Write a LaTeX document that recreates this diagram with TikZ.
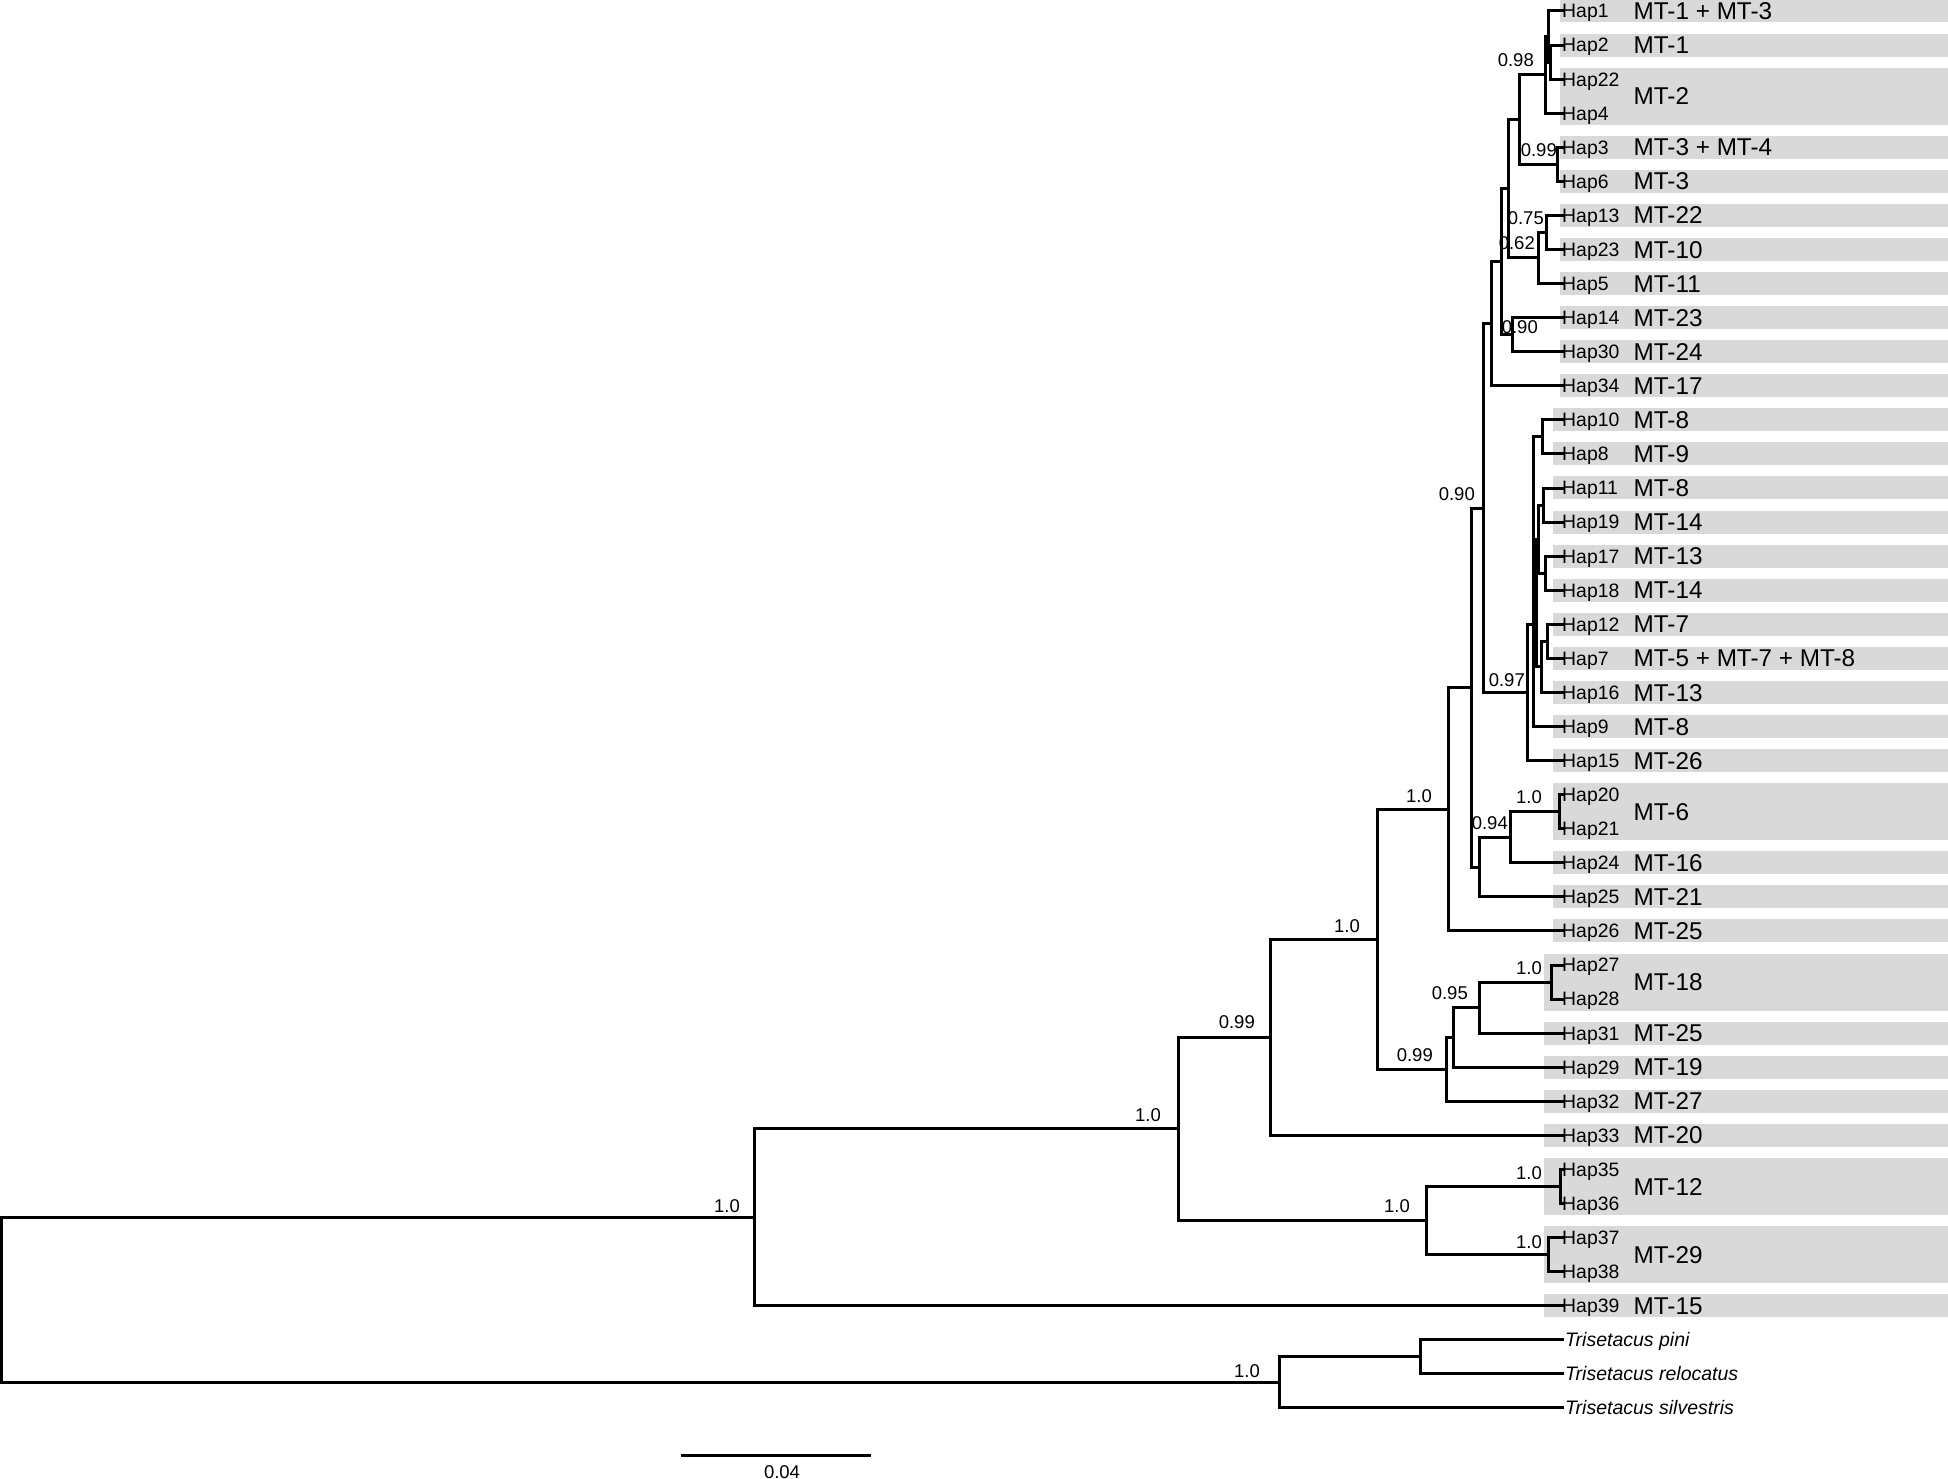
\documentclass[tikz,border=0pt]{standalone}
\usepackage{fontspec}
\setmainfont{Liberation Sans}
\definecolor{bandgray}{RGB}{217,217,217}
\begin{document}
\begin{tikzpicture}[x=1pt,y=-1pt,
  br/.style={line width=3pt},
  band/.style={fill=bandgray,draw=none},
  hap/.style={anchor=base west,inner sep=0pt,font=\fontsize{19.4}{19.4}\selectfont},
  mt/.style={anchor=base west,inner sep=0pt,font=\fontsize{24.3}{24.3}\selectfont},
  sup/.style={anchor=base east,inner sep=0pt,font=\fontsize{18.5}{18.5}\selectfont},
  outg/.style={anchor=base west,inner sep=0pt,font=\fontsize{19.5}{19.5}\selectfont\itshape}]
\useasboundingbox (0,0) rectangle (1948,1479);
% ---------- bands ----------
\foreach \i in {0,1,4,5,6,7,8,9,10,11}
  \fill[band] (1560,{11+34.07*\i-11.5}) rectangle (1948,{11+34.07*\i+11.5});
\fill[band] (1560,67.6) rectangle (1948,124.7);
\foreach \i in {12,13,14,15,16,17,18,19,20,21,22,25,26,27}
  \fill[band] (1553,{11+34.07*\i-11.5}) rectangle (1948,{11+34.07*\i+11.5});
\fill[band] (1553,783.1) rectangle (1948,840.2);
\foreach \i in {30,31,32,33,38}
  \fill[band] (1544,{11+34.07*\i-11.5}) rectangle (1948,{11+34.07*\i+11.5});
\fill[band] (1544,953.5) rectangle (1948,1010.5);
\fill[band] (1544,1157.9) rectangle (1948,1215.0);
\fill[band] (1544,1226.0) rectangle (1948,1283.1);
% ---------- leaf tips ----------
\coordinate (hap1) at (1565,11.0);
\coordinate (hap2) at (1565,45.1);
\coordinate (hap22) at (1565,79.1);
\coordinate (hap4) at (1565,113.2);
\coordinate (hap3) at (1565,147.3);
\coordinate (hap6) at (1565,181.4);
\coordinate (hap13) at (1565,215.4);
\coordinate (hap23) at (1565,249.5);
\coordinate (hap5) at (1565,283.6);
\coordinate (hap14) at (1565,317.6);
\coordinate (hap30) at (1565,351.7);
\coordinate (hap34) at (1565,385.8);
\coordinate (hap10) at (1565,419.8);
\coordinate (hap8) at (1565,453.9);
\coordinate (hap11) at (1565,488.0);
\coordinate (hap19) at (1565,522.1);
\coordinate (hap17) at (1565,556.1);
\coordinate (hap18) at (1565,590.2);
\coordinate (hap12) at (1565,624.3);
\coordinate (hap7) at (1565,658.3);
\coordinate (hap16) at (1565,692.4);
\coordinate (hap9) at (1565,726.5);
\coordinate (hap15) at (1565,760.5);
\coordinate (hap20) at (1565,794.6);
\coordinate (hap21) at (1565,828.7);
\coordinate (hap24) at (1565,862.8);
\coordinate (hap25) at (1565,896.8);
\coordinate (hap26) at (1565,930.9);
\coordinate (hap27) at (1565,965.0);
\coordinate (hap28) at (1565,999.0);
\coordinate (hap31) at (1565,1033.1);
\coordinate (hap29) at (1565,1067.2);
\coordinate (hap32) at (1565,1101.2);
\coordinate (hap33) at (1565,1135.3);
\coordinate (hap35) at (1565,1169.4);
\coordinate (hap36) at (1565,1203.5);
\coordinate (hap37) at (1565,1237.5);
\coordinate (hap38) at (1565,1271.6);
\coordinate (hap39) at (1565,1305.7);
\coordinate (tpin) at (1564,1339.7);
\coordinate (trel) at (1564,1373.8);
\coordinate (tsil) at (1564,1407.9);
% ---------- internal nodes ----------
\coordinate (nE) at (1550,62.1);
\coordinate (nD) at (1548,36.6);
\coordinate (nB) at (1545,74.9);
\coordinate (nC) at (1557,164.4);
\coordinate (nA) at (1519,119.6);
\coordinate (n75) at (1546,232.5);
\coordinate (n62) at (1538,258.0);
\coordinate (nF) at (1508,188.8);
\coordinate (nI) at (1512,334.7);
\coordinate (nH) at (1501,261.7);
\coordinate (nJ) at (1491,323.7);
\coordinate (nP1) at (1542,436.9);
\coordinate (nQ11) at (1543,505.0);
\coordinate (nQ17) at (1545,573.2);
\coordinate (nQ1) at (1538,539.1);
\coordinate (nP12) at (1547,641.3);
\coordinate (nR1) at (1541,666.9);
\coordinate (nO2) at (1536,603.0);
\coordinate (nO) at (1533,624.0);
\coordinate (nL) at (1527,692.4);
\coordinate (nK) at (1483,508.0);
\coordinate (nHH) at (1559.5,811.6);
\coordinate (n94) at (1510,837.2);
\coordinate (nN) at (1479,867.0);
\coordinate (nM) at (1471,687.5);
\coordinate (nP) at (1448,809.2);
\coordinate (nU) at (1551,982.0);
\coordinate (nT) at (1479,1007.6);
\coordinate (nS) at (1453,1037.4);
\coordinate (nR) at (1446.5,1069.3);
\coordinate (nQ) at (1377,939.3);
\coordinate (nV) at (1270,1037.3);
\coordinate (nY) at (1560,1186.4);
\coordinate (nZ) at (1548.5,1254.6);
\coordinate (nX) at (1426.5,1220.5);
\coordinate (nW) at (1178.5,1128.9);
\coordinate (nAA) at (754,1217.3);
\coordinate (nCC) at (1420.5,1356.8);
\coordinate (nBB) at (1279.5,1382.3);
\coordinate (root) at (1.8,1299.8);
% ---------- branches ----------
\draw[br] (hap2) -| (nE) |- (hap22);
\draw[br] (hap1) -| (nD) |- (nE);
\draw[br] (nD) -| (nB) |- (hap4);
\draw[br] (hap3) -| (nC) |- (hap6);
\draw[br] (nB) -| (nA) |- (nC);
\draw[br] (hap13) -| (n75) |- (hap23);
\draw[br] (n75) -| (n62) |- (hap5);
\draw[br] (nA) -| (nF) |- (n62);
\draw[br] (hap14) -| (nI) |- (hap30);
\draw[br] (nF) -| (nH) |- (nI);
\draw[br] (nH) -| (nJ) |- (hap34);
\draw[br] (hap10) -| (nP1) |- (hap8);
\draw[br] (hap11) -| (nQ11) |- (hap19);
\draw[br] (hap17) -| (nQ17) |- (hap18);
\draw[br] (nQ11) -| (nQ1) |- (nQ17);
\draw[br] (hap12) -| (nP12) |- (hap7);
\draw[br] (nP12) -| (nR1) |- (hap16);
\draw[br] (nQ1) -| (nO2) |- (nR1);
\draw[br] (nP1) -| (nO) |- (hap9);
\draw[br] (nO) |- (nO2);
\draw[br] (nO) -| (nL) |- (hap15);
\draw[br] (nJ) -| (nK) |- (nL);
\draw[br] (hap20) -| (nHH) |- (hap21);
\draw[br] (nHH) -| (n94) |- (hap24);
\draw[br] (n94) -| (nN) |- (hap25);
\draw[br] (nK) -| (nM) |- (nN);
\draw[br] (nM) -| (nP) |- (hap26);
\draw[br] (hap27) -| (nU) |- (hap28);
\draw[br] (nU) -| (nT) |- (hap31);
\draw[br] (nT) -| (nS) |- (hap29);
\draw[br] (nS) -| (nR) |- (hap32);
\draw[br] (nP) -| (nQ) |- (nR);
\draw[br] (nQ) -| (nV) |- (hap33);
\draw[br] (hap35) -| (nY) |- (hap36);
\draw[br] (hap37) -| (nZ) |- (hap38);
\draw[br] (nY) -| (nX) |- (nZ);
\draw[br] (nV) -| (nW) |- (nX);
\draw[br] (nW) -| (nAA) |- (hap39);
\draw[br] (tpin) -| (nCC) |- (trel);
\draw[br] (nCC) -| (nBB) |- (tsil);
\draw[br] (nAA) -| (root) |- (nBB);
% ---------- support values ----------
\node[sup] (sA) at (1534,67) {0.98};
\node[sup] (sC) at (1557,157) {0.99};
\node[sup] (s75) at (1544,225) {0.75};
\node[sup] (s62) at (1535,250) {0.62};
\node[sup] (sI) at (1538,333) {0.90};
\node[sup] (sM) at (1475,500) {0.90};
\node[sup] (sL) at (1525,686) {0.97};
\node[sup] (sHH) at (1542,803) {1.0};
\node[sup] (s94) at (1508,829) {0.94};
\node[sup] (sP) at (1432,802) {1.0};
\node[sup] (sQ) at (1360,932) {1.0};
\node[sup] (sU) at (1542,974) {1.0};
\node[sup] (sT) at (1468,999) {0.95};
\node[sup] (sR) at (1433,1061) {0.99};
\node[sup] (sV) at (1255,1028) {0.99};
\node[sup] (sW) at (1161,1121) {1.0};
\node[sup] (sY) at (1542,1179) {1.0};
\node[sup] (sX) at (1410,1212) {1.0};
\node[sup] (sZ) at (1542,1248) {1.0};
\node[sup] (sAA) at (740,1212) {1.0};
\node[sup] (sBB) at (1260,1377) {1.0};
% ---------- haplotype labels ----------
\foreach \n/\i in {1/0,2/1,22/2,4/3,3/4,6/5,13/6,23/7,5/8,14/9,30/10,34/11,10/12,8/13,11/14,19/15,17/16,18/17,12/18,7/19,16/20,9/21,15/22,20/23,21/24,24/25,25/26,26/27,27/28,28/29,31/30,29/31,32/32,33/33,35/34,36/35,37/36,38/37,39/38}
  \node[hap] (lab\n) at (1562,{11+34.07*\i+6.9}) {Hap\n};
% ---------- MT labels ----------
\foreach \t/\y in {MT-1 + MT-3/11.0, MT-1/45.1, MT-2/96.15, MT-3 + MT-4/147.3, MT-3/181.4,
  MT-22/215.4, MT-10/249.5, MT-11/283.6, MT-23/317.6, MT-24/351.7, MT-17/385.8,
  MT-8/419.8, MT-9/453.9, MT-8/488.0, MT-14/522.1, MT-13/556.1, MT-14/590.2,
  MT-7/624.3, MT-5 + MT-7 + MT-8/658.3, MT-13/692.4, MT-8/726.5, MT-26/760.5,
  MT-6/811.65, MT-16/862.8, MT-21/896.8, MT-25/930.9, MT-18/982.0, MT-25/1033.1,
  MT-19/1067.2, MT-27/1101.2, MT-20/1135.3, MT-12/1186.45, MT-29/1254.55, MT-15/1305.7}
  \node[mt] at (1633.5,{\y+8.6}) {\t};
% ---------- outgroup labels ----------
\node[outg] (lpin) at (1565,1346.7) {Trisetacus pini};
\node[outg] (lrel) at (1565,1380.8) {Trisetacus relocatus};
\node[outg] (lsil) at (1565,1414.9) {Trisetacus silvestris};
% ---------- scale bar ----------
\coordinate (sb1) at (681,1455);
\coordinate (sb2) at (870.5,1455);
\draw[br] (sb1) -- (sb2);
\node[anchor=base,inner sep=0pt,font=\fontsize{18.5}{18.5}\selectfont] (sblab) at (782,1478) {0.04};
\end{tikzpicture}
\end{document}
